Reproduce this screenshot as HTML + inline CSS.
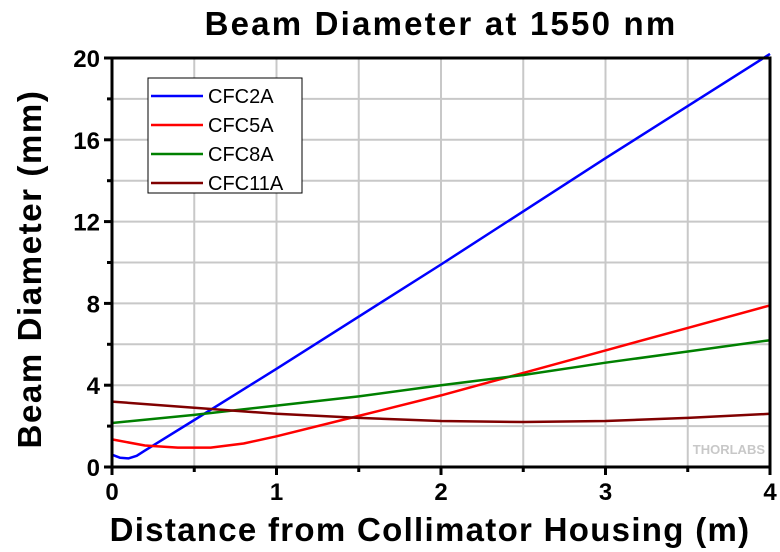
<!DOCTYPE html>
<html><head><meta charset="utf-8"><style>
body{margin:0;background:#fff}
svg{display:block;font-family:"Liberation Sans",Arial,sans-serif}
</style></head><body>
<svg id="c" width="780" height="552" viewBox="0 0 780 552">
<text x="441" y="35" text-anchor="middle" font-size="33" font-weight="bold" letter-spacing="2.2">Beam Diameter at 1550 nm</text>
<text x="430" y="541" text-anchor="middle" font-size="33" font-weight="bold" letter-spacing="1.3">Distance from Collimator Housing (m)</text>
<text transform="translate(41,269) rotate(-90)" text-anchor="middle" font-size="33" font-weight="bold" letter-spacing="1.6">Beam Diameter (mm)</text>
<g id="grid"></g><g id="series"></g><g id="axes"></g>
<text x="765" y="454" text-anchor="end" font-size="13" font-weight="bold" fill="#c8c8c8">THORLABS</text>
<g>
<rect x="148" y="78" width="154" height="115" fill="#fff" stroke="#000" stroke-width="1"/>
</g>
</svg>
<script>
const xTicks=[0,1,2,3,4];
const yTicks=[0,4,8,12,16,20];
const seriesNames=["CFC2A","CFC5A","CFC8A","CFC11A"];
const seriesColors=["#0000ff","#ff0000","#008000","#800000"];
const x2=[0,0.05,0.1,0.15,0.2,0.3,0.5,1,2,3,4];
const y2=[0.6,0.45,0.42,0.55,0.8,1.3,2.3,4.8,9.9,15.1,20.2];
const x5=[0,0.2,0.4,0.6,0.8,1,1.5,2,2.5,3,3.5,4];
const y5=[1.35,1.05,0.95,0.95,1.15,1.5,2.5,3.5,4.6,5.7,6.8,7.9];
const x8=[0,0.5,1,1.5,2,2.5,3,3.5,4];
const y8=[2.15,2.55,3.0,3.45,4.0,4.5,5.1,5.65,6.2];
const x11=[0,0.5,1,1.5,2,2.5,3,3.5,4];
const y11=[3.2,2.9,2.6,2.4,2.25,2.2,2.25,2.4,2.6];
const NS="http://www.w3.org/2000/svg";
const L=112,R=770,T=58,B=467;
const sx=v=>L+v/4*(R-L), sy=v=>B-v/20*(B-T);
function mk(t,a,p){const e=document.createElementNS(NS,t);for(const k in a)e.setAttribute(k,a[k]);p.appendChild(e);return e;}
const grid=document.getElementById('grid'),axes=document.getElementById('axes'),ser=document.getElementById('series');
for(let v=0.5;v<4;v+=0.5){const g=mk('line',{x1:sx(v),x2:sx(v),y1:T,y2:B,stroke:'#c8c8c8','stroke-width':2},grid);

}
for(let v=2;v<20;v+=2){const g=mk('line',{x1:L,x2:R,y1:sy(v),y2:sy(v),stroke:'#c8c8c8','stroke-width':2},grid);

}
const data=[[x2,y2],[x5,y5],[x8,y8],[x11,y11]];
data.forEach((d,i)=>{const pts=d[0].map((x,j)=>sx(x).toFixed(1)+','+sy(d[1][j]).toFixed(1)).join(' ');
const p=mk('polyline',{points:pts,fill:'none',stroke:seriesColors[i],'stroke-width':2.5,'stroke-linejoin':'round'},ser);

});
mk('rect',{x:L,y:T,width:R-L,height:B-T,fill:'none',stroke:'#000','stroke-width':3},axes);
xTicks.forEach(v=>{mk('line',{x1:sx(v),x2:sx(v),y1:B,y2:B+8,stroke:'#000','stroke-width':3},axes);
const t=mk('text',{x:sx(v),y:B+33,'text-anchor':'middle','font-size':24,'font-weight':'bold'},axes);t.textContent=v;

});
for(let v=0.5;v<4;v+=1)mk('line',{x1:sx(v),x2:sx(v),y1:B,y2:B+5,stroke:'#000','stroke-width':3},axes);
yTicks.forEach(v=>{mk('line',{x1:L-8,x2:L,y1:sy(v),y2:sy(v),stroke:'#000','stroke-width':3},axes);
const t=mk('text',{x:L-12,y:sy(v)+9,'text-anchor':'end','font-size':24,'font-weight':'bold'},axes);t.textContent=v;

});
for(let v=2;v<20;v+=4)mk('line',{x1:L-5,x2:L,y1:sy(v),y2:sy(v),stroke:'#000','stroke-width':3},axes);
const svg=document.getElementById('c');
seriesNames.forEach((n,i)=>{const y=96+i*29;
const g=mk('g',{},svg);


mk('line',{x1:151,x2:203,y1:y,y2:y,stroke:seriesColors[i],'stroke-width':2.5},g);
const t=mk('text',{x:208,y:y+7,'font-size':20},g);t.textContent=n;});
</script>
</body></html>
